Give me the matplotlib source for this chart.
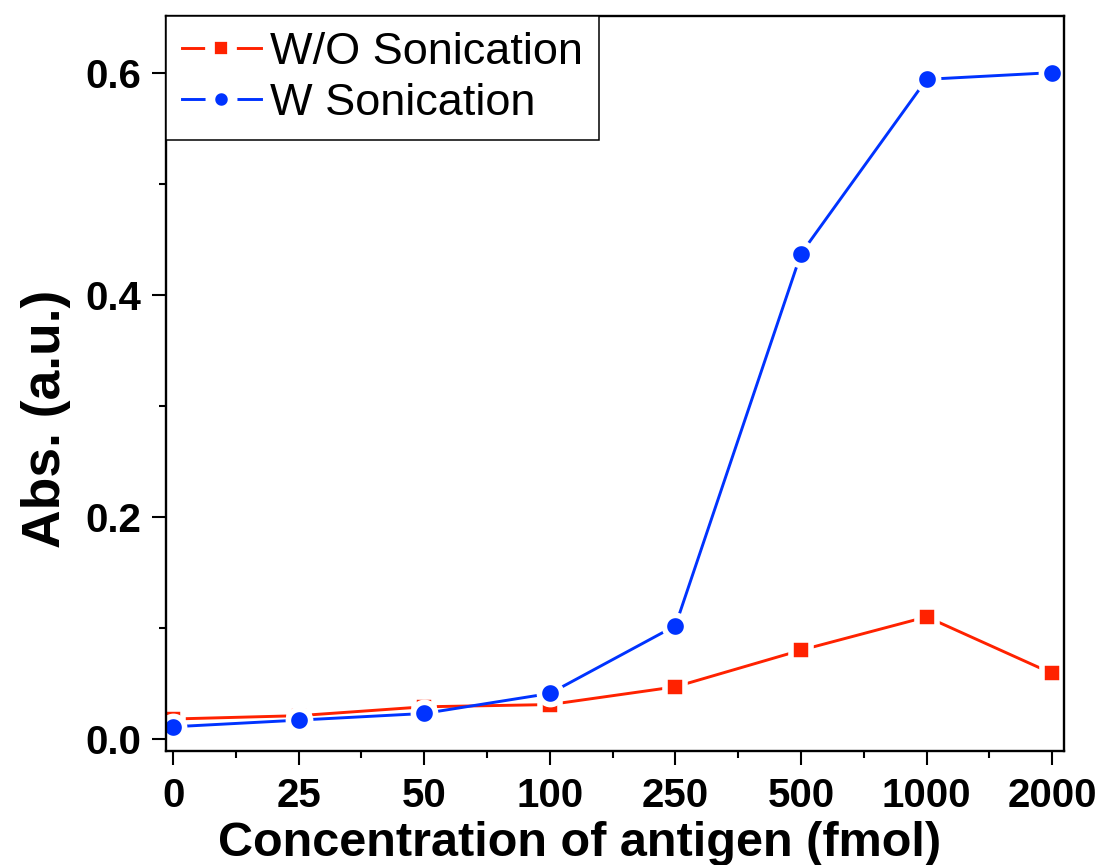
import numpy as np
import matplotlib
matplotlib.use('Agg')
from matplotlib import pyplot as plt
from matplotlib.ticker import MultipleLocator

conc_labels = ['0', '25', '50', '100', '250', '500', '1000', '2000']
wo_sonication = [0.018, 0.021, 0.029, 0.031, 0.047, 0.080, 0.110, 0.059]
w_sonication = [0.011, 0.017, 0.023, 0.041, 0.102, 0.437, 0.594, 0.600]

plt.rcParams['font.family'] = ['Liberation Sans', 'DejaVu Sans']

fig = plt.figure(figsize=(11.01, 8.65), dpi=100)
ax = fig.add_axes([0.1508, 0.1318, 0.8156, 0.8497])

x = np.arange(len(conc_labels))
ax.plot(x, wo_sonication, color='#ff2200', lw=2.1, marker='s', ms=14.5,
        mec='white', mew=4, label='W/O Sonication', zorder=2)
ax.plot(x, w_sonication, color='#0033ff', lw=2.1, marker='o', ms=16,
        mec='white', mew=4, label='W Sonication', zorder=2.1)

ax.set_xlim(-0.056, 7.094)
ax.set_ylim(-0.0108, 0.651)
ax.set_xticks(x)
ax.set_xticklabels(conc_labels, fontsize=29, fontweight='bold')
ax.xaxis.set_minor_locator(MultipleLocator(0.5))
ax.set_yticks([0.0, 0.2, 0.4, 0.6])
ax.set_yticklabels(['0.0', '0.2', '0.4', '0.6'], fontsize=29, fontweight='bold')
ax.yaxis.set_minor_locator(MultipleLocator(0.1))

ax.tick_params(which='major', direction='out', length=10, width=1.5)
ax.tick_params(which='minor', direction='out', length=5, width=1.5)
ax.tick_params(axis='x', which='major', pad=9)
ax.tick_params(axis='y', which='major', pad=8)
ax.tick_params(top=False, right=False)
for s in ax.spines.values():
    s.set_linewidth(1.7)
    s.set_zorder(3)

ax.set_xlabel('Concentration of antigen (fmol)', fontsize=35, fontweight='bold')
ax.xaxis.set_label_coords(0.46, -0.095)
ax.set_ylabel('Abs. (a.u.)', fontsize=38.5, fontweight='bold')
ax.yaxis.set_label_coords(-0.106, 0.452)

leg = ax.legend(loc='upper left', bbox_to_anchor=(0, 1), borderaxespad=0,
                fancybox=False, framealpha=1, edgecolor='black',
                fontsize=32.5, handlelength=1.75,
                handletextpad=0.2, borderpad=0.35, labelspacing=0.22)
leg.get_frame().set_linewidth(1.1)
leg.set_zorder(4)
for h in leg.legend_handles:
    h.set_markersize(16)
    h.set_markeredgewidth(7)

fig.savefig('out.png', dpi=100)
